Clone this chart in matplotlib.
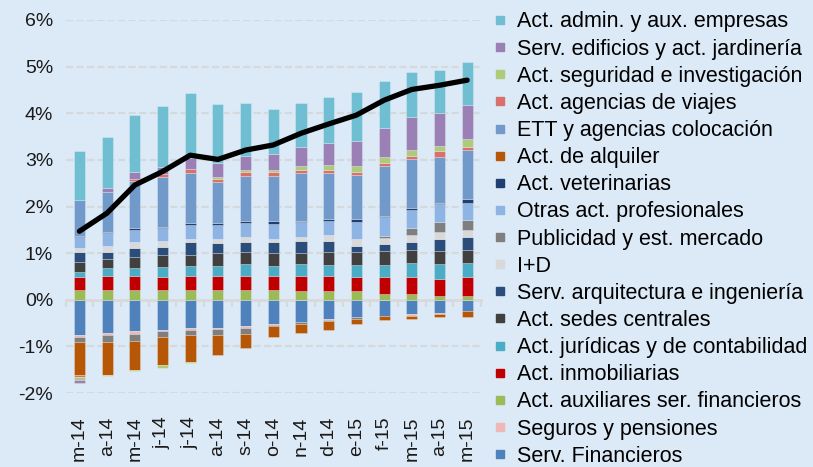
import numpy as np
import matplotlib.pyplot as plt
from matplotlib.lines import Line2D
from matplotlib.ticker import FuncFormatter

plt.rcParams['font.family'] = ['Liberation Sans', 'DejaVu Sans']

# Months
months = ["m-14", "a-14", "m-14", "j-14", "j-14", "a-14", "s-14", "o-14",
          "n-14", "d-14", "e-15", "f-15", "m-15", "a-15", "m-15"]

# Contributions (pp), stacking order from the bottom up
serv_fin = [-0.76, -0.71, -0.68, -0.64, -0.61, -0.61, -0.56, -0.52, -0.48, -0.41, -0.37, -0.34, -0.30, -0.29, -0.25]
seguros = [-0.04, -0.05, -0.05, -0.04, -0.03, -0.02, -0.05, -0.02, 0.0, -0.03, -0.01, 0.0, -0.04, -0.01, 0.0]
aux_fin = [0.21, 0.21, 0.21, 0.21, 0.21, 0.21, 0.21, 0.21, 0.18, 0.18, 0.18, 0.13, 0.13, 0.09, 0.09]
inmob = [0.28, 0.31, 0.31, 0.28, 0.31, 0.31, 0.31, 0.31, 0.34, 0.33, 0.31, 0.35, 0.36, 0.36, 0.40]
juridicas = [0.11, 0.17, 0.16, 0.22, 0.21, 0.21, 0.24, 0.21, 0.24, 0.24, 0.26, 0.27, 0.30, 0.31, 0.30]
sedes = [0.21, 0.18, 0.23, 0.24, 0.23, 0.27, 0.27, 0.27, 0.24, 0.28, 0.28, 0.30, 0.28, 0.29, 0.27]
arquitectura = [0.22, 0.16, 0.20, 0.19, 0.27, 0.21, 0.20, 0.23, 0.26, 0.23, 0.13, 0.14, 0.16, 0.26, 0.28]
i_d = [0.09, 0.13, 0.12, 0.12, 0.08, 0.09, 0.11, 0.08, 0.08, 0.12, 0.15, 0.14, 0.16, 0.15, 0.16]
publicidad = [-0.11, -0.15, -0.15, -0.12, -0.12, -0.13, -0.12, -0.03, -0.04, -0.01, -0.03, 0.04, 0.15, 0.20, 0.20]
otras_prof = [0.22, 0.27, 0.27, 0.28, 0.30, 0.31, 0.30, 0.32, 0.32, 0.31, 0.35, 0.40, 0.39, 0.40, 0.38]
veterinarias = [0.03, 0.03, 0.03, 0.03, 0.03, 0.03, 0.04, 0.06, 0.03, 0.04, 0.07, 0.03, 0.03, 0.02, 0.08]
alquiler = [-0.70, -0.70, -0.62, -0.61, -0.58, -0.43, -0.30, -0.23, -0.19, -0.20, -0.11, -0.10, -0.07, -0.08, -0.12]
ett = [0.76, 0.86, 1.02, 1.07, 1.07, 0.88, 0.98, 0.97, 1.02, 0.98, 0.95, 1.07, 1.06, 0.98, 1.05]
viajes = [-0.05, -0.01, 0.04, 0.05, 0.09, 0.07, 0.08, 0.08, 0.07, 0.07, 0.07, 0.07, 0.07, 0.12, 0.07]
seguridad = [-0.07, -0.02, -0.03, -0.05, -0.02, 0.04, 0.04, 0.04, 0.08, 0.11, 0.12, 0.12, 0.12, 0.12, 0.16]
edificios = [-0.05, 0.07, 0.16, 0.16, 0.23, 0.30, 0.30, 0.35, 0.42, 0.48, 0.54, 0.62, 0.70, 0.70, 0.74]
admin = [1.05, 1.09, 1.21, 1.30, 1.40, 1.26, 1.15, 0.97, 0.95, 0.97, 1.05, 1.01, 0.98, 0.93, 0.91]

# Total (black line)
total = [1.47, 1.86, 2.46, 2.75, 3.10, 3.01, 3.21, 3.32, 3.57, 3.77, 3.96, 4.28, 4.51, 4.60, 4.71]

series = [
    ("Serv. Financieros", serv_fin, "#4F81BD"),
    ("Seguros y pensiones", seguros, "#EDB8B6"),
    ("Act. auxiliares ser. financieros", aux_fin, "#9BBB59"),
    ("Act. inmobiliarias", inmob, "#C00000"),
    ("Act. jurídicas y de contabilidad", juridicas, "#4BACC6"),
    ("Act. sedes centrales", sedes, "#404040"),
    ("Serv. arquitectura e ingeniería", arquitectura, "#2A4D7A"),
    ("I+D", i_d, "#D9D9D9"),
    ("Publicidad y est. mercado", publicidad, "#7F7F7F"),
    ("Otras act. profesionales", otras_prof, "#8EB4E3"),
    ("Act. veterinarias", veterinarias, "#1F3E72"),
    ("Act. de alquiler", alquiler, "#B65708"),
    ("ETT y agencias colocación", ett, "#7199CA"),
    ("Act. agencias de viajes", viajes, "#D8716C"),
    ("Act. seguridad e investigación", seguridad, "#ADCB7B"),
    ("Serv. edificios y act. jardinería", edificios, "#9A80B5"),
    ("Act. admin. y aux. empresas", admin, "#70BED2"),
]

bg = "#DCE9F6"
fig = plt.figure(figsize=(8.13, 4.67), dpi=100, facecolor=bg)
ax = fig.add_axes([65.6 / 813, 1 - 393 / 467, (481 - 65.6) / 813, (393 - 20) / 467])
ax.set_facecolor(bg)

x = np.arange(len(months))
pos_base = np.zeros(len(months))
neg_base = np.zeros(len(months))
for name, vals, col in series:
    v = np.array(vals)
    bottom = np.where(v >= 0, pos_base, neg_base)
    ax.bar(x, v, width=0.4, bottom=bottom, color=col,
           edgecolor=(1, 1, 1, 0.3), linewidth=0.6, zorder=3)
    pos_base += np.where(v >= 0, v, 0)
    neg_base += np.where(v < 0, v, 0)

ax.plot(x, total, color="black", lw=3.8, solid_capstyle="round",
        solid_joinstyle="round", zorder=5)

ax.set_xlim(-0.5, len(months) - 0.5)
ax.set_ylim(-2, 6)
ax.set_yticks(range(-2, 7))
ax.yaxis.set_major_formatter(FuncFormatter(lambda v, p: f"{v:.0f}%"))

for yv in range(-2, 7):
    if yv != 0:
        ax.axhline(yv, color="#D6D9DC", lw=1.5, ls=(0, (3.5, 1.5)), zorder=1)

for s in ax.spines.values():
    s.set_visible(False)

ax.set_xticks(x)
ax.set_xticklabels(months, rotation=90)
ax.tick_params(axis="x", length=0, pad=17, labelsize=14, colors="#1a1a1a")
ax.tick_params(axis="y", length=0, pad=9, labelsize=14, colors="#1a1a1a")

# zero axis with ticks between categories
sec = ax.secondary_xaxis(0.25)
sec.set_xticks(np.arange(-0.5, len(months), 1.0))
sec.tick_params(axis="x", direction="out", length=5, width=1.5,
                color="#D9D9D9", labelbottom=False)
sec.spines["bottom"].set_color("#D9D9D9")
sec.spines["bottom"].set_linewidth(2)
sec.spines["bottom"].set_zorder(4)

handles = [Line2D([], [], marker="s", linestyle="", markersize=5.8,
                  color=col) for _, _, col in series[::-1]]
labels = [name for name, _, _ in series[::-1]]
fig.legend(handles, labels, loc="upper left",
           bbox_to_anchor=(493.75 / 813, 1 - 11.5 / 467),
           frameon=False, fontsize=15.5, handlelength=0.6, handletextpad=0.5,
           labelspacing=0.285, borderpad=0, borderaxespad=0)

fig.savefig("out.png", dpi=100, facecolor=bg)
